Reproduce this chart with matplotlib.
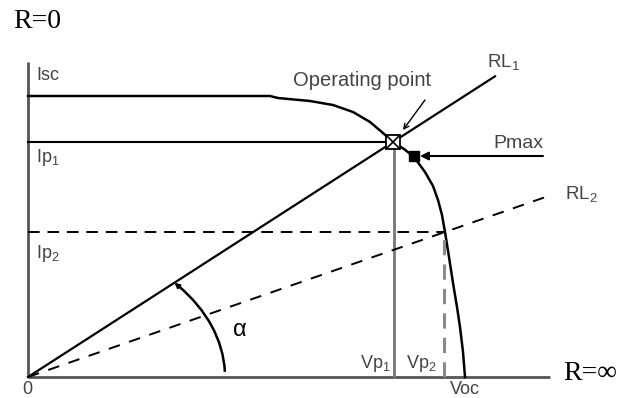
import numpy as np
import matplotlib
matplotlib.use("Agg")
import matplotlib.pyplot as plt
from matplotlib.patches import Arc

plt.rcParams['font.family'] = ['Liberation Sans', 'DejaVu Sans']
plt.rcParams['mathtext.fontset'] = 'custom'
plt.rcParams['mathtext.rm'] = 'Liberation Sans'
plt.rcParams['mathtext.it'] = 'Liberation Sans'

# I-V characteristic of the module (arbitrary units)
iv_voltage = [0, 242, 250, 282, 305, 325, 342, 355, 365, 376, 386, 397, 405, 410, 414, 417, 421, 425, 429, 432, 435, 437]
iv_current = [281, 281, 279, 276, 272, 265, 255, 244, 235, 228, 220, 205, 191, 177, 162, 145, 120, 94, 70, 50, 25, 0]

isc = 281
vp1, ip1 = 365, 235      # operating point on load line RL1
vp2, ip2 = 417, 145      # operating point on load line RL2
voc = 437
pmax_v, pmax_i = 386, 221

x_end = 522
y_end = 315
rl1_end = 467
rl2_end = 525

fig = plt.figure(figsize=(6.19, 3.98), dpi=100)
ax = fig.add_axes([0, 0, 1, 1])
ax.set_xlim(-28, 591)
ax.set_ylim(-21, 377)
ax.axis('off')

axis_col = '#555555'
txt_col = '#444444'

# axes
ax.plot([0, 0], [0, y_end], color=axis_col, lw=2.0, solid_capstyle='butt')
ax.plot([0, x_end], [0, 0], color=axis_col, lw=2.0, solid_capstyle='butt')

# I-V curve
ax.plot(iv_voltage, iv_current, color='black', lw=1.8)

# current levels
ax.plot([0, vp1], [ip1, ip1], color='black', lw=1.5)
ax.plot([0, vp2], [ip2, ip2], color='black', lw=1.4, dashes=(6, 4))

# voltage levels
ax.plot([vp1 + 1, vp1 + 1], [0, ip1], color='#777777', lw=2.0)
ax.plot([vp2 - 1, vp2 - 1], [0, ip2], color='#8a8a8a', lw=2.2, dashes=(5, 3))

# load lines
slope1 = ip1 / vp1
slope2 = ip2 / vp2
ax.plot([0, rl1_end], [0, slope1 * rl1_end], color='black', lw=1.6)
ax.plot([0, rl2_end], [0, slope2 * rl2_end], color='black', lw=1.4, dashes=(6, 5))

# angle arc between the V axis and RL1
a_ax, b_ax = 197, 141
theta_rl1 = np.degrees(np.arctan(slope1))
ax.add_patch(Arc((0, 0), 2 * a_ax, 2 * b_ax, theta1=1.5, theta2=theta_rl1 - 1.5,
                 color='black', lw=1.8))
t_tip = np.arctan2(np.tan(np.radians(theta_rl1)) * a_ax, b_ax)
t_tail = t_tip - 0.08
ax.annotate('', xy=(a_ax * np.cos(t_tip), b_ax * np.sin(t_tip)),
            xytext=(a_ax * np.cos(t_tail), b_ax * np.sin(t_tail)),
            arrowprops=dict(arrowstyle='-|>', color='black', lw=1.2,
                            mutation_scale=8, shrinkA=0, shrinkB=0))

# operating point marker
ax.plot([vp1], [ip1], marker='s', ms=10, mfc='white', mec='black', mew=1.3)
ax.plot([vp1], [ip1], marker='x', ms=9, color='black', mew=1.2)

# maximum power point
ax.plot([pmax_v], [pmax_i], marker='s', ms=7, color='black')
ax.annotate('', xy=(pmax_v + 6, pmax_i), xytext=(515, pmax_i),
            arrowprops=dict(arrowstyle='-|>', color='black', lw=1.5,
                            mutation_scale=12, shrinkA=0, shrinkB=0))
ax.text(465, pmax_i + 13, 'Pmax', color=txt_col, fontsize=14,
        ha='left', va='center')

# operating point label
ax.annotate('', xy=(vp1 + 10, ip1 + 12), xytext=(397, 277),
            arrowprops=dict(arrowstyle='->', color='black', lw=1.0,
                            mutation_scale=9, shrinkA=0, shrinkB=0))
ax.text(265, 296, 'Operating point', color=txt_col, fontsize=14.5,
        ha='left', va='center')

# load line labels
ax.text(459, 315, r'RL$_{1}$', color=txt_col, fontsize=13.5, ha='left', va='center')
ax.text(537, 183, r'RL$_{2}$', color=txt_col, fontsize=13.5, ha='left', va='center')

# axis labels
ax.text(8, 302, 'Isc', color=txt_col, fontsize=13, ha='left', va='center')
ax.text(8, 219, r'Ip$_{1}$', color=txt_col, fontsize=13, ha='left', va='center')
ax.text(8, 123, r'Ip$_{2}$', color=txt_col, fontsize=13, ha='left', va='center')
ax.text(vp1 - 18, 14, r'Vp$_{1}$', color=txt_col, fontsize=13, ha='center', va='center')
ax.text(vp2 - 24, 14, r'Vp$_{2}$', color=txt_col, fontsize=13, ha='center', va='center')
ax.text(voc, -12, 'Voc', color=txt_col, fontsize=13, ha='center', va='center')
ax.text(-1, -12, '0', color=txt_col, fontsize=13, ha='center', va='center')
ax.text(212, 47, 'α', color='black', fontsize=17, ha='center', va='center',
        family=['Liberation Sans', 'DejaVu Sans'])

serif = ['Liberation Serif', 'DejaVu Serif']
ax.text(-15, 356, 'R=0', color='black', fontsize=20, ha='left', va='center', family=serif)
ax.text(535, 4, 'R=∞', color='black', fontsize=20, ha='left', va='center', family=serif)

fig.savefig('out.png', dpi=100)
